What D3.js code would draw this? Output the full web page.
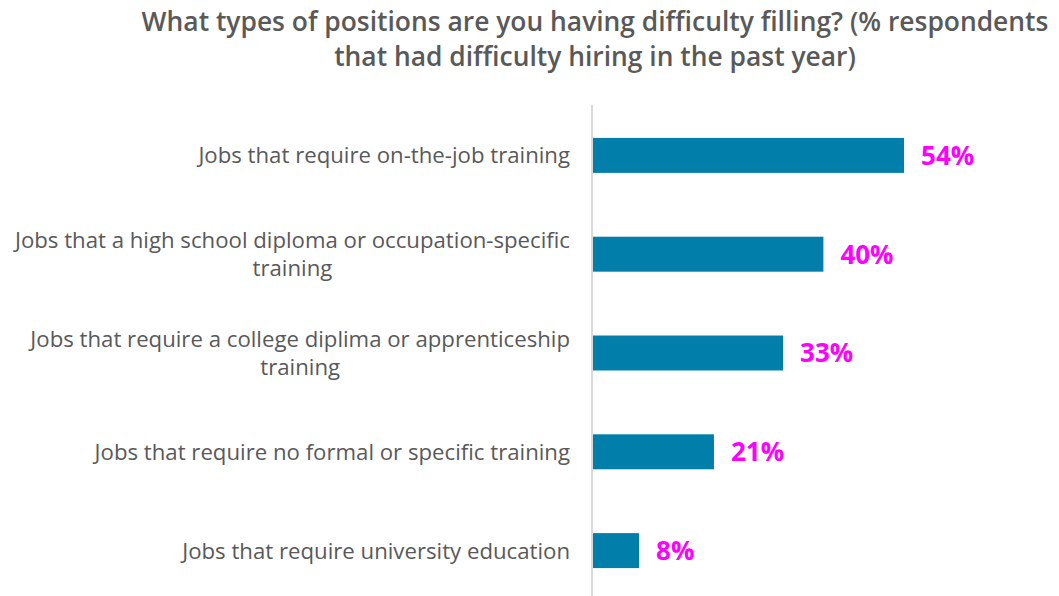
<!DOCTYPE html>
<html>
<head>
<meta charset="utf-8">
<script src="https://cdn.jsdelivr.net/npm/d3@7"></script>
<style>
  body { margin: 0; background: #fff; }
  svg { display: block; font-family: "Open Sans", "Liberation Sans", sans-serif; }
</style>
</head>
<body>
<svg id="chart" width="1059" height="596"></svg>
<script>
// data
var categories = [
  ["Jobs that require on-the-job training"],
  ["Jobs that a high school diploma or occupation-specific", "training"],
  ["Jobs that require a college diplima or apprenticeship", "training"],
  ["Jobs that require no formal or specific training"],
  ["Jobs that require university education"]
];
var values = [54, 40, 33, 21, 8];
var titleLines = [
  "What types of positions are you having difficulty filling? (% respondents",
  "that had difficulty hiring in the past year)"
];

var width = 1059, height = 596;
var svg = d3.select("#chart");

var x = d3.scaleLinear().domain([0, 60]).range([593, 938.6]);
var y = d3.scaleBand()
  .domain(d3.range(values.length))
  .range([106, 600])
  .paddingInner(0.646)
  .paddingOuter(0.323);

// title
svg.append("g").selectAll("text")
  .data(titleLines)
  .enter().append("text")
  .attr("x", 595)
  .attr("y", function(d, i) { return 31 + i * 35; })
  .attr("text-anchor", "middle")
  .attr("font-size", 26.4)
  .attr("font-weight", 600)
  .attr("fill", "#595959")
  .text(function(d) { return d; });

// bars
svg.append("g").selectAll("rect")
  .data(values)
  .enter().append("rect")
  .attr("x", x(0))
  .attr("y", function(d, i) { return y(i); })
  .attr("width", function(d) { return x(d) - x(0); })
  .attr("height", y.bandwidth())
  .attr("fill", "#027EAB");

// axis line
svg.append("line")
  .attr("x1", 592).attr("x2", 592)
  .attr("y1", 105).attr("y2", height)
  .attr("stroke", "#D9D9D9")
  .attr("stroke-width", 2);

// value labels
svg.append("g").selectAll("text")
  .data(values)
  .enter().append("text")
  .attr("x", function(d) { return x(d) + 17; })
  .attr("y", function(d, i) { return y(i) + y.bandwidth() / 2; })
  .attr("dy", "0.36em")
  .attr("font-size", 26)
  .attr("font-weight", 700)
  .attr("fill", "#FF00FF")
  .text(function(d) { return d + "%"; });

// category labels: block right aligned, lines centered in the block
var lineH = 28;
var labelRight = 570;
var groups = svg.append("g").selectAll("g")
  .data(categories)
  .enter().append("g");

groups.each(function(lines, i) {
  var g = d3.select(this);
  var cy = y(i) + y.bandwidth() / 2;
  var top = cy - (lines.length - 1) * lineH / 2;
  var txt = g.selectAll("text")
    .data(lines)
    .enter().append("text")
    .attr("y", function(d, j) { return top + j * lineH; })
    .attr("dy", "0.36em")
    .attr("font-size", 22.2)
    .attr("fill", "#595959")
    .attr("text-anchor", "middle")
    .text(function(d) { return d; });
  var maxW = 0;
  txt.each(function() { maxW = Math.max(maxW, this.getComputedTextLength()); });
  txt.attr("x", labelRight - maxW / 2);
});
</script>
</body>
</html>
